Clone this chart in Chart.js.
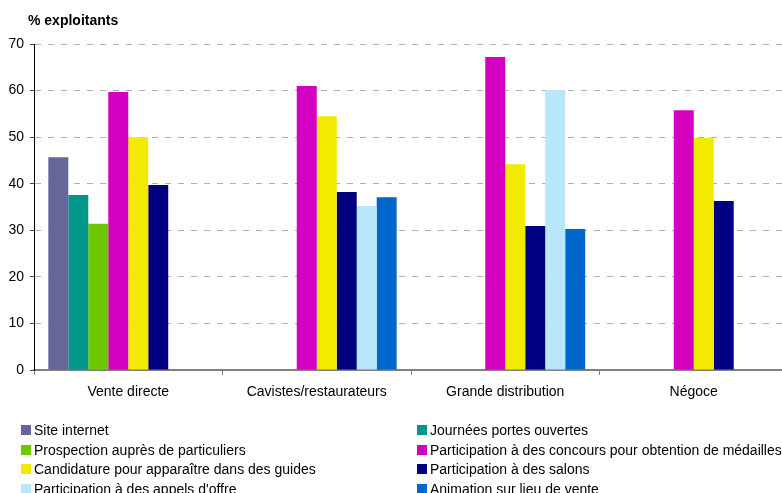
<!DOCTYPE html>
<html>
<head>
<meta charset="utf-8">
<script src="https://cdn.jsdelivr.net/npm/chart.js@4/dist/chart.umd.min.js"></script>
<style>
  html, body { margin: 0; padding: 0; background: #fff; width: 782px; height: 493px; overflow: hidden; }
  #wrap { position: absolute; left: 0; top: 0; width: 790px; height: 405px; }
  #legend { position: absolute; left: 0; top: 0; width: 782px; height: 493px; pointer-events: none;
            font-family: "Liberation Sans", Arial, sans-serif; font-size: 14px; color: #000; }
  .li { position: absolute; white-space: nowrap; line-height: 16px; }
  .li span.box { position: absolute; left: 0; top: 3px; width: 10px; height: 10px; }
  .li span.txt { position: absolute; left: 13px; top: 0; }
</style>
</head>
<body>
<div id="wrap"><canvas id="c"></canvas></div>
<div id="legend"></div>
<script>
const categories = ["Vente directe", "Cavistes/restaurateurs", "Grande distribution", "Négoce"];
const seriesNames = [
  "Site internet",
  "Journées portes ouvertes",
  "Prospection auprès de particuliers",
  "Participation à des concours pour obtention de médailles",
  "Candidature pour apparaître dans des guides",
  "Participation à des salons",
  "Participation à des appels d'offre",
  "Animation sur lieu de vente"
];
const siteInternet   = [45.7, null, null, null];
const journees       = [37.6, null, null, null];
const prospection    = [31.4, null, null, null];
const concours       = [59.7, 61.0, 67.2, 55.8];
const guides         = [50.0, 54.5, 44.2, 49.8];
const salons         = [39.7, 38.2, 30.9, 36.3];
const appelsOffre    = [null, 35.2, 60.1, null];
const animation      = [null, 37.1, 30.3, null];
const yTicks = [0, 10, 20, 30, 40, 50, 60, 70];
const colors = ["#666699", "#00968A", "#6CC800", "#D400BF", "#F2EA00", "#000080", "#B8E6FA", "#0066CC"];

const seriesValues = [siteInternet, journees, prospection, concours, guides, salons, appelsOffre, animation];
const FONT = '"Liberation Sans", Arial, sans-serif';

const titlePlugin = {
  id: 'yTitle',
  afterDraw(chart) {
    const ctx = chart.ctx;
    ctx.save();
    ctx.font = 'bold 14px ' + FONT;
    ctx.fillStyle = '#000';
    ctx.textBaseline = 'alphabetic';
    ctx.textAlign = 'left';
    ctx.fillText('% exploitants', 28, 25);
    ctx.restore();
  }
};

const chart = new Chart(document.getElementById('c'), {
  type: 'bar',
  data: {
    labels: categories,
    datasets: seriesNames.map((name, i) => ({
      label: name,
      data: seriesValues[i],
      backgroundColor: colors[i],
      borderWidth: 0,
      barPercentage: 1.0,
      categoryPercentage: 0.848
    }))
  },
  options: {
    responsive: true,
    maintainAspectRatio: false,
    animation: false,
    layout: { padding: { top: 44, left: 0, right: 2, bottom: 0 } },
    plugins: { legend: { display: false }, tooltip: { enabled: false }, title: { display: false } },
    scales: {
      x: {
        grid: { display: true, drawOnChartArea: false, drawTicks: true, tickLength: 5, tickColor: '#808080', tickWidth: 1, offset: true },
        border: { display: true, color: '#808080', width: 2 },
        ticks: { font: { family: FONT, size: 14 }, color: '#000', padding: 9, maxRotation: 0, autoSkip: false },
        afterFit(scale) { scale.height = 35; }
      },
      y: {
        min: 0, max: 70,
        afterBuildTicks(scale) { scale.ticks = yTicks.map(v => ({ value: v })); },
        grid: { color: '#B0B0B0', lineWidth: 1, drawTicks: true, tickLength: 4, tickColor: '#404040', tickBorderDash: [] },
        border: { display: true, color: '#000', width: 1, dash: [6, 7] },
        ticks: { font: { family: FONT, size: 14 }, color: '#000', padding: 6 },
        afterFit(scale) { scale.width = 34; }
      }
    }
  },
  plugins: [titlePlugin]
});

// HTML legend in two columns, built from the chart's datasets
const legend = document.getElementById('legend');
const colX = [21, 417];
const rowY = [422, 441.5, 461, 480.5];
chart.data.datasets.forEach((ds, i) => {
  const col = i % 2, row = Math.floor(i / 2);
  const item = document.createElement('div');
  item.className = 'li';
  item.style.left = colX[col] + 'px';
  item.style.top = rowY[row] + 'px';
  const box = document.createElement('span');
  box.className = 'box';
  box.style.background = ds.backgroundColor;
  const txt = document.createElement('span');
  txt.className = 'txt';
  txt.textContent = ds.label;
  item.appendChild(box);
  item.appendChild(txt);
  legend.appendChild(item);
});
</script>
</body>
</html>
